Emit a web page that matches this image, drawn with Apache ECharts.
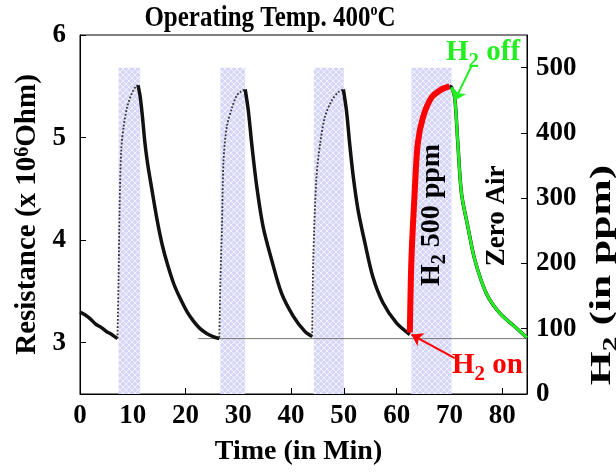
<!DOCTYPE html>
<html><head><meta charset="utf-8">
<script src="https://cdn.jsdelivr.net/npm/echarts@6/dist/echarts.min.js"></script>
<style>html,body{margin:0;padding:0;background:#fff}#c{width:616px;height:472px}</style>
</head><body><div id="c"></div>
<script>
// ---- data ----
const xTicks = [0, 10, 20, 30, 40, 50, 60, 70, 80];
const rTicks = [3, 4, 5, 6];
const ppmTicks = [0, 100, 200, 300, 400, 500];
// H2 pulses: [start min, end min, ppm]
const h2Pulses = [[7.3, 11.4, 500], [26.6, 31.3, 500], [44.3, 50.0, 500], [62.8, 70.4, 500]];
const baseline = [[22.4, 3.04], [84.7, 3.04]];
// resistance (x10^6 Ohm) vs time (min)
const decay0 = [[0, 3.30], [1, 3.27], [2, 3.23], [3, 3.18], [4, 3.15], [5, 3.11], [6, 3.08], [7.1, 3.04]];
const rise1 = [[7.1, 3.04], [7.3, 3.6], [7.5, 4.3], [7.8, 4.87], [8.3, 5.12], [8.9, 5.29], [9.5, 5.39], [10.1, 5.46], [10.6, 5.50], [11.0, 5.51]];
const decay1 = [[11.0, 5.51], [11.4, 5.40], [11.8, 5.22], [12.3, 4.95], [12.8, 4.75], [13.6, 4.50], [14.6, 4.20], [15.6, 3.95], [16.6, 3.76], [17.8, 3.57], [19.0, 3.43], [20.3, 3.30], [21.5, 3.21], [22.7, 3.14], [24.0, 3.09], [25.2, 3.06], [26.4, 3.04]];
const rise2 = [[26.4, 3.05], [26.6, 3.6], [26.9, 4.13], [27.2, 4.78], [27.8, 5.10], [28.8, 5.29], [29.7, 5.41], [30.5, 5.45], [31.3, 5.47]];
const decay2 = [[31.3, 5.47], [31.9, 5.26], [32.6, 4.91], [33.5, 4.52], [34.7, 4.13], [36.3, 3.81], [38.2, 3.48], [40.4, 3.26], [42.6, 3.11], [44.0, 3.06]];
const rise3 = [[44.0, 3.06], [44.2, 3.81], [44.8, 4.61], [45.5, 4.94], [46.4, 5.20], [47.7, 5.36], [48.9, 5.44], [49.9, 5.47]];
const decay3 = [[49.9, 5.47], [50.5, 5.26], [51.1, 4.94], [51.8, 4.61], [52.7, 4.29], [54.0, 3.97], [55.5, 3.64], [57.4, 3.39], [60.0, 3.19], [62.5, 3.08]];
const rise4 = [[62.5, 3.10], [62.8, 3.81], [63.4, 4.45], [64.0, 4.94], [65.0, 5.20], [66.6, 5.39], [68.5, 5.47], [70.0, 5.50]];
const decay4 = [[70.0, 5.50], [70.4, 5.49], [71.0, 5.39], [71.6, 4.94], [72.3, 4.45], [73.5, 4.13], [74.8, 3.81], [77.0, 3.48], [79.5, 3.29], [82.3, 3.16], [84.7, 3.05]];
const arrowOff = [[74.2, 5.70], [71.0, 5.36]];
const arrowOn = [[71.0, 2.85], [62.8, 3.08]];

// ---- styling ----
const FF = "'Liberation Serif','Times New Roman',serif";
const GREEN = '#22ee22', RED = '#ff0000';
const pc = document.createElement('canvas'); pc.width = 6; pc.height = 6;
const g = pc.getContext('2d');
g.fillStyle = '#d6d6f8'; g.fillRect(0, 0, 6, 6);
g.strokeStyle = 'rgba(255,255,255,0.7)'; g.lineWidth = 1;
g.beginPath(); g.moveTo(0, 0); g.lineTo(6, 6); g.moveTo(6, 0); g.lineTo(0, 6); g.stroke();
const pattern = { image: pc, repeat: 'repeat' };

const lbl = { fontFamily: FF, fontWeight: 'bold', fontSize: 27, color: '#000' };
const tok = (s, extra) => Object.assign({ fontFamily: FF, fontWeight: 'bold', fontSize: s }, extra || {});

function blackSeries(data, rise) {
  return {
    type: 'line', data: data, showSymbol: false, smooth: 0.3, z: 3,
    lineStyle: rise ? { color: '#333', width: 1.8, type: 'dotted' } : { color: '#111', width: 3.5 }
  };
}

const chart = echarts.init(document.getElementById('c'), null, { renderer: 'canvas' });
chart.setOption({
  animation: false,
  grid: { left: 80, right: 89, top: 35, bottom: 78, show: true, borderColor: '#000', borderWidth: 1 },
  xAxis: {
    type: 'value', min: 0, max: 84.7,
    axisLine: { lineStyle: { color: '#000', width: 1 } },
    axisTick: { inside: true, length: 6, lineStyle: { color: '#000' }, customValues: xTicks },
    axisLabel: Object.assign({ margin: 9, customValues: xTicks }, lbl),
    splitLine: { show: false },
    name: 'Time (in Min)', nameLocation: 'middle', nameGap: 44,
    nameTextStyle: { fontFamily: FF, fontWeight: 'bold', fontSize: 28, color: '#000', padding: [0, 10, 0, 0] }
  },
  yAxis: [{
    type: 'value', min: 2.5, max: 6, position: 'left',
    axisLine: { show: true, lineStyle: { color: '#000', width: 1 } },
    axisTick: { show: true, inside: true, length: 6, lineStyle: { color: '#000' }, customValues: rTicks },
    axisLabel: Object.assign({ margin: 14, customValues: rTicks }, lbl),
    splitLine: { show: false },
    name: 'Resistance (x 10{s|6}Ohm)', nameLocation: 'middle', nameGap: 33,
    nameTextStyle: {
      fontFamily: FF, fontWeight: 'bold', fontSize: 29, color: '#000',
      rich: { s: tok(20, { verticalAlign: 'top', lineHeight: 20, color: '#000' }) }
    }
  }, {
    type: 'value', min: 0, max: 550, position: 'right',
    axisLine: { show: true, lineStyle: { color: '#000', width: 1 } },
    axisTick: { show: true, inside: true, length: 6, lineStyle: { color: '#000' }, customValues: ppmTicks },
    axisLabel: Object.assign({ margin: 9, customValues: ppmTicks }, lbl),
    splitLine: { show: false }
  }],
  series: [
    {
      type: 'custom', yAxisIndex: 1, z: 1, data: h2Pulses, encode: { x: [0, 1], y: 2 },
      renderItem: function (params, api) {
        const p0 = api.coord([api.value(0), api.value(2)]);
        const p1 = api.coord([api.value(1), 0]);
        return { type: 'rect', shape: { x: p0[0], y: p0[1], width: p1[0] - p0[0], height: p1[1] - p0[1] }, style: { fill: pattern } };
      }
    },
    { type: 'line', data: baseline, showSymbol: false, z: 2, lineStyle: { color: '#777', width: 1 } },
    blackSeries(decay0, false), blackSeries(rise1, true), blackSeries(decay1, false),
    blackSeries(rise2, true), blackSeries(decay2, false), blackSeries(rise3, true),
    blackSeries(decay3, false), blackSeries(rise4, true), blackSeries(decay4, false),
    {
      type: 'line', data: rise4, showSymbol: false, smooth: 0.3, z: 4,
      lineStyle: { color: RED, width: 6 },
      markLine: {
        silent: true, symbol: ['none', 'arrow'], symbolSize: 11,
        lineStyle: { color: RED, width: 2, type: 'solid' }, label: { show: false },
        data: [[{ coord: arrowOn[0] }, { coord: arrowOn[1] }]]
      }
    },
    {
      type: 'line', data: decay4.slice(1), showSymbol: false, smooth: 0.3, z: 4,
      lineStyle: { color: GREEN, width: 3 },
      markLine: {
        silent: true, symbol: ['none', 'arrow'], symbolSize: 11,
        lineStyle: { color: GREEN, width: 2, type: 'solid' }, label: { show: false },
        data: [[{ coord: arrowOff[0] }, { coord: arrowOff[1] }]]
      }
    }
  ],
  graphic: [
    {
      type: 'text', x: 270, y: 19, z: 10, scaleY: 1.15,
      style: {
        text: '{m|Operating Temp. 400}{o|o}{m|C}', align: 'center', verticalAlign: 'middle',
        rich: { m: tok(25, { lineHeight: 28, fill: '#000' }), o: tok(14, { verticalAlign: 'top', lineHeight: 14, fill: '#000' }) }
      }
    },
    {
      type: 'text', x: 603, y: 275, rotation: Math.PI / 2, scaleX: 1.5, z: 10,
      style: {
        text: '{m|H}{s|2}{m| (in ppm)}', align: 'center', verticalAlign: 'middle',
        rich: { m: tok(29, { lineHeight: 34, fill: '#000' }), s: tok(20, { verticalAlign: 'bottom', lineHeight: 38, fill: '#000' }) }
      }
    },
    {
      type: 'text', x: 446, y: 53, z: 10,
      style: {
        text: '{m|H}{s|2}{m| off}', align: 'left', verticalAlign: 'middle',
        rich: { m: tok(29, { lineHeight: 32, fill: GREEN }), s: tok(21, { verticalAlign: 'bottom', lineHeight: 38, fill: GREEN }) }
      }
    },
    {
      type: 'text', x: 452, y: 366, z: 10,
      style: {
        text: '{m|H}{s|2}{m| on}', align: 'left', verticalAlign: 'middle',
        rich: { m: tok(29, { lineHeight: 32, fill: RED }), s: tok(21, { verticalAlign: 'bottom', lineHeight: 38, fill: RED }) }
      }
    },
    {
      type: 'text', x: 432, y: 215, rotation: Math.PI / 2, z: 10,
      style: {
        text: '{m|H}{s|2}{m| 500 ppm}', align: 'center', verticalAlign: 'middle',
        rich: { m: tok(28, { lineHeight: 32, fill: '#000' }), s: tok(20, { verticalAlign: 'bottom', lineHeight: 36, fill: '#000' }) }
      }
    },
    {
      type: 'text', x: 497, y: 216, rotation: Math.PI / 2, z: 10,
      style: {
        text: 'Zero Air', align: 'center', verticalAlign: 'middle',
        font: "bold 27px 'Liberation Serif', serif", fill: '#000'
      }
    }
  ]
});
</script></body></html>
